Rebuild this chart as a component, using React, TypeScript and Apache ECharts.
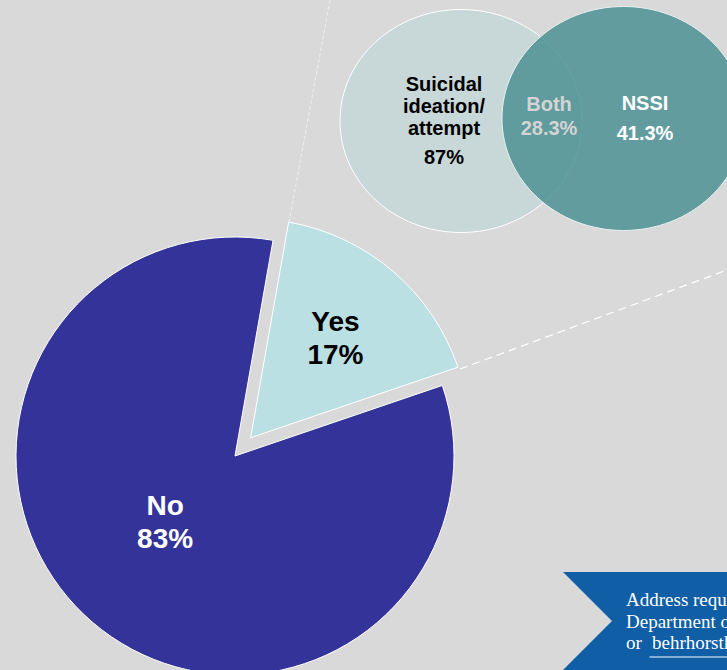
import React, { useEffect, useRef } from "react";
import * as echarts from "echarts";

const categories = ["Yes", "No"];
const values = [17, 83];
const sliceColors = ["#bae0e4", "#333399"];
const sliceLabelColors = ["#000000", "#ffffff"];

const vennLabels = ["Suicidal\nideation/\nattempt", "Both", "NSSI"];
const vennValues = ["87%", "28.3%", "41.3%"];

const bannerLines = ["Address requests", "Department of", "or  "];
const bannerLink = "behrhorstk";

const SANS = "'Liberation Sans', Arial, Helvetica, sans-serif";
const SERIF = "'Liberation Serif', 'Times New Roman', serif";

export default function App() {
  const ref = useRef<HTMLDivElement>(null);

  useEffect(() => {
    if (!ref.current) return;
    const chart = echarts.init(ref.current, undefined, { renderer: "svg" });

    const labelShift = [
      { dx: 11.6, dy: -14 },
      { dx: 3.3, dy: -19 },
    ];

    const option: any = {
      animation: false,
      backgroundColor: "#d9d9d9",
      graphic: [
        // Venn circles
        {
          type: "ellipse",
          z: 1,
          shape: { cx: 461, cy: 121, rx: 121, ry: 111.5 },
          style: { fill: "#c8d8d8", stroke: "#ffffff", lineWidth: 1 },
        },
        {
          type: "ellipse",
          z: 2,
          shape: { cx: 623.5, cy: 118.5, rx: 121.5, ry: 112 },
          style: { fill: "rgba(78,145,148,0.85)", stroke: "#e8f0f0", lineWidth: 1 },
        },
        {
          type: "text",
          z: 3,
          style: {
            text: vennLabels[0],
            x: 444,
            y: 106,
            textAlign: "center",
            textVerticalAlign: "middle",
            fontFamily: SANS,
            fontWeight: "bold",
            fontSize: 20,
            lineHeight: 21.7,
            fill: "#000000",
          },
        },
        {
          type: "text",
          z: 3,
          style: {
            text: vennValues[0],
            x: 444,
            y: 157,
            textAlign: "center",
            textVerticalAlign: "middle",
            fontFamily: SANS,
            fontWeight: "bold",
            fontSize: 20,
            fill: "#000000",
          },
        },
        {
          type: "text",
          z: 3,
          style: {
            text: vennLabels[1] + "\n" + vennValues[1],
            x: 549,
            y: 116,
            textAlign: "center",
            textVerticalAlign: "middle",
            fontFamily: SANS,
            fontWeight: "bold",
            fontSize: 20,
            lineHeight: 24.3,
            fill: "#d4d4d4",
          },
        },
        {
          type: "text",
          z: 3,
          style: {
            text: vennLabels[2] + "\n" + vennValues[2],
            x: 645,
            y: 118.3,
            textAlign: "center",
            textVerticalAlign: "middle",
            fontFamily: SANS,
            fontWeight: "bold",
            fontSize: 20,
            lineHeight: 30,
            fill: "#ffffff",
          },
        },
        // connector lines
        {
          type: "line",
          z: 1,
          shape: { x1: 330, y1: 0, x2: 289, y2: 222 },
          style: { stroke: "#f2f2f2", lineWidth: 0.8, lineDash: [4, 2] },
        },
        {
          type: "line",
          z: 1,
          shape: { x1: 460, y1: 369, x2: 727, y2: 270 },
          style: { stroke: "#ffffff", lineWidth: 1.2, lineDash: [8, 5] },
        },
        // banner
        {
          type: "polygon",
          z: 1,
          shape: {
            points: [
              [563, 572],
              [727, 572],
              [727, 670],
              [563, 670],
              [612, 621],
            ],
          },
          style: { fill: "#0f5ea6" },
        },
        {
          type: "text",
          z: 3,
          style: {
            text: bannerLines.join("\n"),
            x: 626,
            y: 588.7,
            textAlign: "left",
            textVerticalAlign: "top",
            fontFamily: SERIF,
            fontSize: 19,
            lineHeight: 21.7,
            fill: "#ffffff",
          },
        },
        {
          type: "text",
          z: 3,
          style: {
            text: bannerLink,
            x: 652,
            y: 632.1,
            textAlign: "left",
            textVerticalAlign: "top",
            fontFamily: SERIF,
            fontSize: 19,
            lineHeight: 21.7,
            fill: "#ffffff",
          },
        },
        {
          type: "line",
          z: 3,
          shape: { x1: 649.5, y1: 657, x2: 727, y2: 657 },
          style: { stroke: "#ffffff", lineWidth: 1 },
        },
      ],
      series: [
        {
          type: "pie",
          center: [235, 456],
          radius: 219,
          startAngle: 80,
          clockwise: true,
          selectedMode: "single",
          selectedOffset: 24,
          avoidLabelOverlap: false,
          emphasis: { disabled: true },
          itemStyle: { borderColor: "#ffffff", borderWidth: 1 },
          label: {
            show: true,
            position: "inside",
            fontFamily: SANS,
            fontWeight: "bold",
            fontSize: 28,
            lineHeight: 33,
            formatter: (p: any) => `${p.name}\n${p.value}%`,
          },
          labelLine: { show: false },
          labelLayout: (p: any) => labelShift[p.dataIndex],
          data: categories.map((name, i) => ({
            name,
            value: values[i],
            selected: i === 0,
            itemStyle: { color: sliceColors[i] },
            label: { color: sliceLabelColors[i] },
            select: {
              itemStyle: { color: sliceColors[i], borderColor: "#ffffff", borderWidth: 1 },
              label: { color: sliceLabelColors[i] },
            },
          })),
        },
      ],
    };

    chart.setOption(option);
    return () => chart.dispose();
  }, []);

  return (
    <div
      ref={ref}
      style={{ position: "absolute", left: 0, top: 0, width: 727, height: 670 }}
    />
  );
}
